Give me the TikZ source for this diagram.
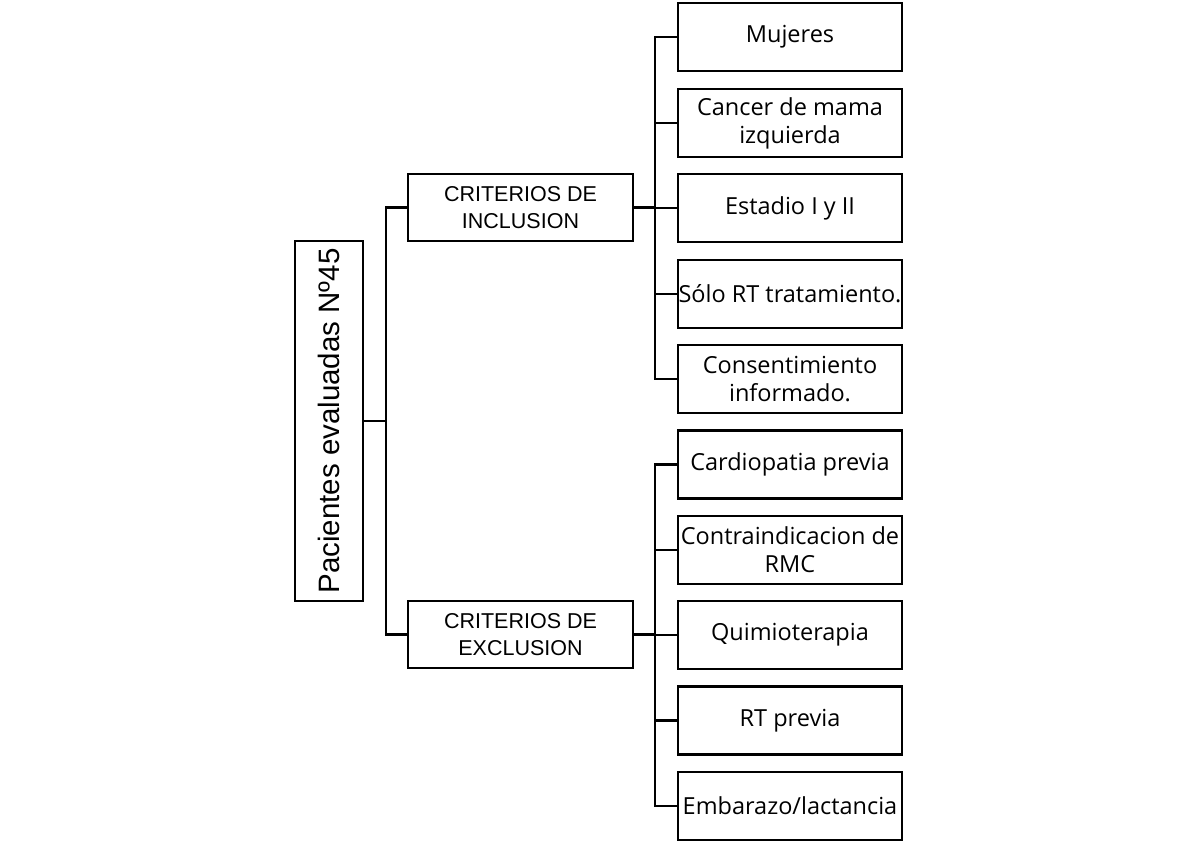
\documentclass[tikz,border=0pt]{standalone}
\usepackage{fontspec}
\setmainfont{Liberation Sans}
\newfontfamily\rfont{Open Sans}
\begin{document}
\begin{tikzpicture}[x=1pt,y=-1pt,
  box/.style={draw,line width=2.8pt,rectangle,inner sep=0pt,align=center},
  rootbox/.style={box,minimum width=68pt,minimum height=360pt},
  midbox/.style={box,minimum width=225pt,minimum height=67pt,font=\fontsize{21.5}{26.5}\selectfont},
  leaf/.style={box,minimum width=224pt,minimum height=68pt,font=\rfont\fontsize{23.5}{28}\selectfont},
  link/.style={line width=2.8pt}]
\useasboundingbox (0,0) rectangle (1200,846);
\node[rootbox] (root) at (329,421) {};
\node[rotate=90,font=\fontsize{29.5}{32}\selectfont] (roottxt) at (root.center) {Pacientes evaluadas Nº45};
\node[midbox] (incl) at (520.5,207.5) {CRITERIOS DE\\INCLUSION};
\node[midbox] (excl) at (520.5,634.5) {CRITERIOS DE\\EXCLUSION};
\node[leaf] (m1) at (790,37) {Mujeres};
\node[leaf] (m2) at (790,123) {Cancer de mama\\izquierda};
\node[leaf] (m3) at (790,208) {Estadio I y II};
\node[leaf] (m4) at (790,294) {Sólo RT tratamiento.};
\node[leaf] (m5) at (790,379) {Consentimiento\\informado.};
\node[leaf] (e1) at (790,464.5) {Cardiopatia previa};
\node[leaf] (e2) at (790,550) {Contraindicacion de\\RMC};
\node[leaf] (e3) at (790,635) {Quimioterapia};
\node[leaf] (e4) at (790,720.5) {RT previa};
\node[leaf] (e5) at (790,806) {Embarazo/lactancia};
\coordinate (b1) at (386,421);
\coordinate (b2) at (655,0);
\draw[link] (root.east) -- (root.east -| b1);
\draw[link] (incl.west) -- (incl.west -| b1) -- (excl.west -| b1) -- (excl.west);
\draw[link] (incl.east) -- (incl.east -| b2);
\draw[link] (m1.west) -- (m1.west -| b2) -- (m5.west -| b2) -- (m5.west);
\foreach \n in {m2,m3,m4} \draw[link] (\n.west) -- (\n.west -| b2);
\draw[link] (excl.east) -- (excl.east -| b2);
\draw[link] (e1.west) -- (e1.west -| b2) -- (e5.west -| b2) -- (e5.west);
\foreach \n in {e2,e3,e4} \draw[link] (\n.west) -- (\n.west -| b2);
\end{tikzpicture}
\end{document}
